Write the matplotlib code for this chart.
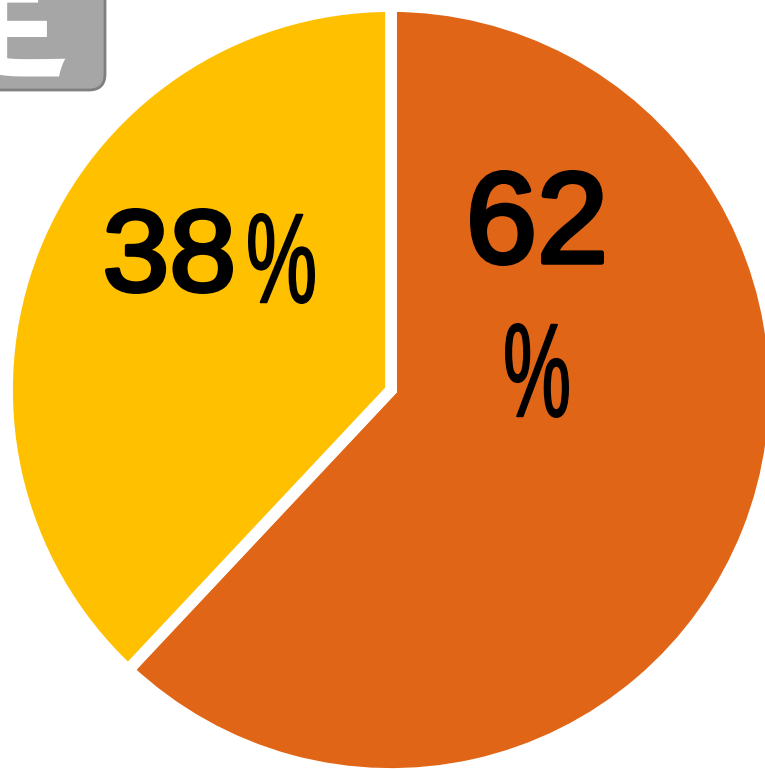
import matplotlib
matplotlib.use("Agg")
import matplotlib.pyplot as plt
from matplotlib.patches import FancyBboxPatch, PathPatch
from matplotlib.textpath import TextPath
from matplotlib.font_manager import FontProperties
from matplotlib.transforms import Affine2D

# share of answers
values = [62, 38]
colors = ["#E06516", "#FFC000"]
numbers = ["62", "38"]
pct_sign = "%"
tag_text = "定"

W, H = 765, 769
fig = plt.figure(figsize=(W / 100, H / 100), dpi=100)
ax = fig.add_axes([0, 0, 1, 1])

cx, cy, r = 391, H - 390, 384
ax.pie(values, colors=colors, startangle=90, counterclock=False,
       center=(cx, cy), radius=r, frame=True,
       wedgeprops=dict(edgecolor="white", linewidth=8.5))
ax.set_xlim(0, W)
ax.set_ylim(0, H)
ax.axis("off")

fp = FontProperties(family="Liberation Sans", weight="normal")


def fit_text(s, x0, y0, x1, y1, lw=3.0):
    # squeeze the text outline into a box given in pixels from the top-left
    grow = lw / 72 * 100 / 2
    tp = TextPath((0, 0), s, size=100, prop=fp)
    e = tp.get_extents()
    sx = (x1 - x0 - 2 * grow) / e.width
    sy = (y1 - y0 - 2 * grow) / e.height
    tr = (Affine2D().translate(-e.x0, -e.y0).scale(sx, sy)
          .translate(x0 + grow, H - y1 + grow))
    ax.add_patch(PathPatch(tr.transform_path(tp), facecolor="black",
                           edgecolor="black", linewidth=lw, joinstyle="round"))


fit_text(numbers[0], 470, 170, 604, 266, lw=3.4)
fit_text(pct_sign, 505, 323, 569, 418, lw=1.2)
fit_text(numbers[1], 105, 208, 233, 294, lw=3.0)
fit_text(pct_sign, 248, 213, 315, 304, lw=1.2)

# grey tag in the corner
box = FancyBboxPatch((-40, H - 90), 145, 140, boxstyle="round,pad=0,rounding_size=16",
                     facecolor="#a6a6a6", edgecolor="#7f7f7f", linewidth=2)
ax.add_patch(box)
ax.text(70, H - 65, tag_text, family=["Noto Sans CJK JP"], weight="bold",
        fontsize=104, color="white", ha="right", va="baseline")

fig.savefig("out.png", dpi=100)
